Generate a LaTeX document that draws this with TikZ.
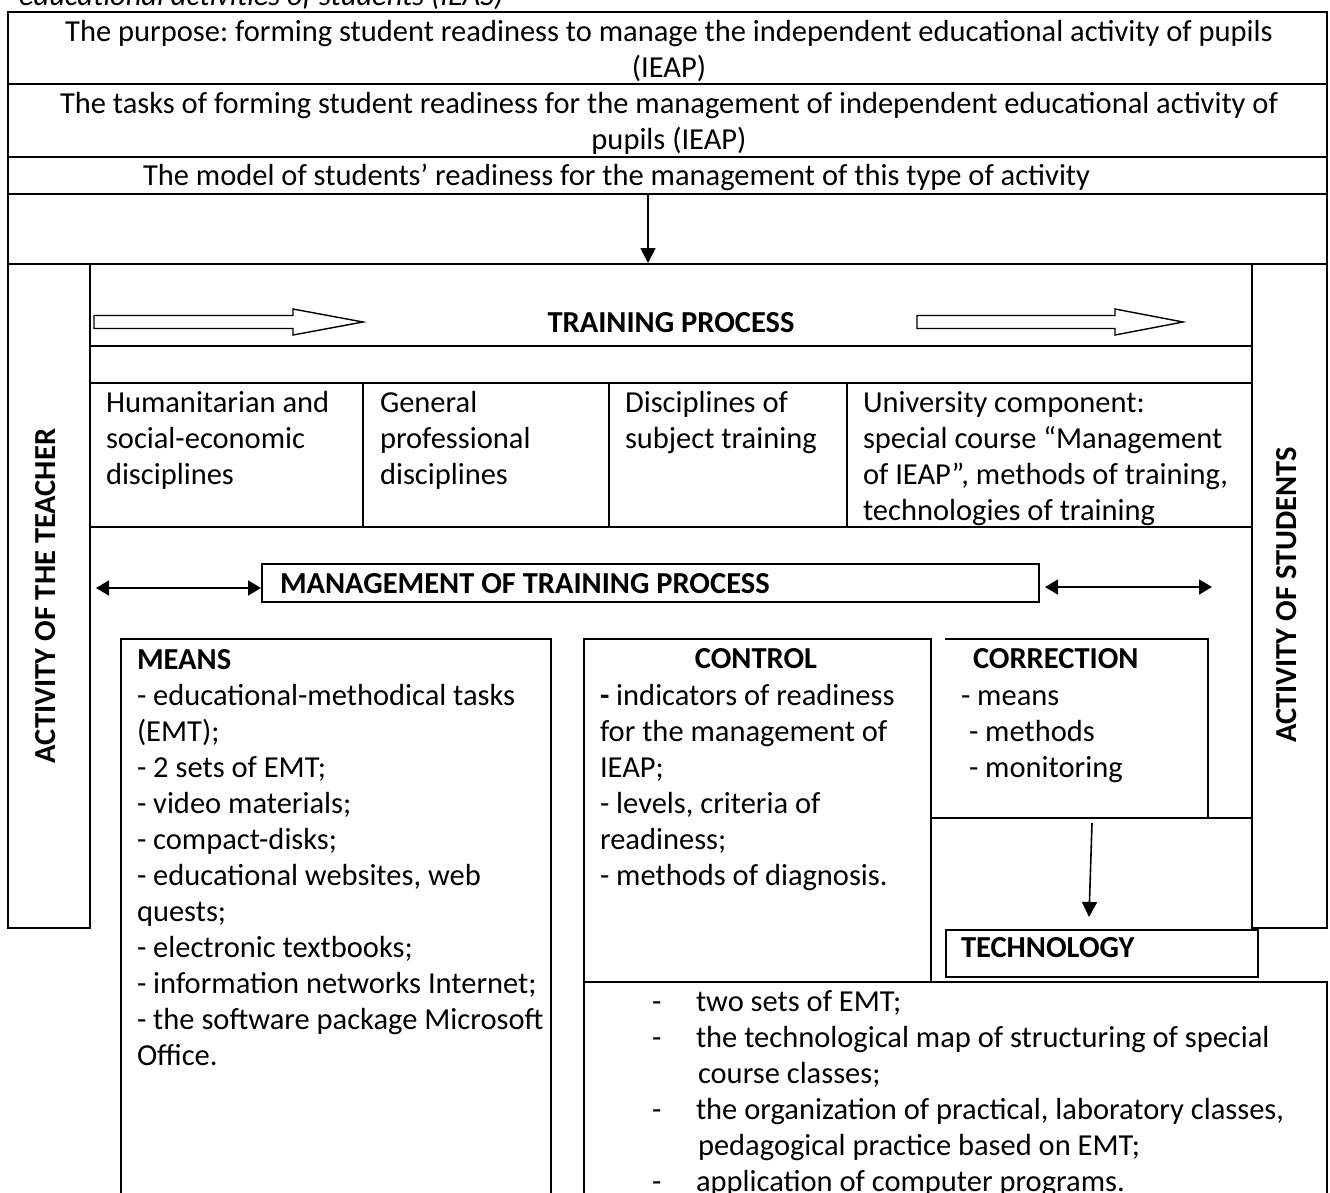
\documentclass[tikz,border=0pt]{standalone}
\usepackage{fontspec}
\setmainfont{Carlito}
\usetikzlibrary{arrows.meta}
\frenchspacing
\begin{document}
\frenchspacing
\begin{tikzpicture}[x=1pt,y=-1pt,line width=2pt,
  txt/.style={font=\fontsize{30.5}{36}\selectfont,inner sep=0pt,align=left,anchor=north west},
  ctxt/.style={font=\fontsize{30.5}{36}\selectfont,inner sep=0pt,align=center,anchor=north},
  ltxt/.style={font=\fontsize{30.5}{36}\selectfont,inner sep=0pt,anchor=base west},
  btxt/.style={font=\fontsize{30.5}{36}\selectfont\bfseries,inner sep=0pt,anchor=base west},
  vtxt/.style={font=\fontsize{30.5}{36}\selectfont\bfseries,inner sep=0pt,rotate=90},
  arr/.style={line width=1.6pt,-{Triangle[length=15pt,width=15pt]}},
  darr/.style={line width=1.6pt,{Triangle[length=13pt,width=15pt]}-{Triangle[length=13pt,width=15pt]}},
  hollow/.style={line width=1.4pt,fill=white}]
\useasboundingbox (0,0) rectangle (1330,1192);
\clip (0,0) rectangle (1330,1192);
% caption fragment at the top
\node (cap) [ltxt,font=\fontsize{30.5}{36}\selectfont\itshape] at (18,5) {educational activities of students (IEAS)};
% top frame
\draw (8,12) rectangle (1327,264);
\draw (8,84) -- (1327,84);
\draw (8,157) -- (1327,157);
\draw (8,194) -- (1327,194);
\node (purpose) [ctxt] at (669,14.8) {\strut The purpose: forming student readiness to manage the independent educational activity of pupils\\(IEAP)};
\node (tasks) [ctxt] at (669,86.8) {\strut The tasks of forming student readiness for the management of independent educational activity of\\pupils (IEAP)};
\node (model) [ltxt] at (142,185) {The model of students’ readiness for the management of this type of activity};
\coordinate (a1s) at (648,195);
\coordinate (a1e) at (648,263);
\draw[arr] (a1s) -- (a1e);
% side columns
\draw (8,264) rectangle (90,928);
\draw (1252,264) rectangle (1327,928);
\node (teacher) [vtxt] at (46,596) {ACTIVITY OF THE TEACHER};
\node (students) [vtxt] at (1287,595) {ACTIVITY OF STUDENTS};
% training process rows
\draw (90,346) -- (1252,346);
\draw (90,383) -- (1252,383);
\draw (90,527) -- (1252,527);
\draw (363,383) -- (363,527);
\draw (609,383) -- (609,527);
\draw (847,383) -- (847,527);
\node (train) [btxt,anchor=base] at (671,332) {TRAINING PROCESS};
\draw[hollow] (94,315.5) -- (293,315.5) -- (293,309) -- (363,322) -- (293,335) -- (293,328.5) -- (94,328.5) -- cycle;
\draw[hollow] (917,315.5) -- (1115,315.5) -- (1115,309) -- (1183,322) -- (1115,335) -- (1115,328.5) -- (917,328.5) -- cycle;
\node (hum) [txt] at (105,385.8) {\strut Humanitarian and\\social-economic\\disciplines};
\node (gen) [txt] at (379,385.8) {\strut General\\professional\\disciplines};
\node (subj) [txt] at (624,385.8) {\strut Disciplines of\\subject training};
\node (univ) [txt] at (862,385.8) {\strut University component:\\special course “Management\\of IEAP”, methods of training,\\technologies of training};
% management
\draw (262,564) rectangle (1039,602);
\node (mgmt) [btxt] at (279,593) {MANAGEMENT OF TRAINING PROCESS};
\coordinate (l1) at (96,588);
\coordinate (l2) at (261,588);
\coordinate (r1) at (1045,587);
\coordinate (r2) at (1212,587);
\draw[darr] (l1) -- (l2);
\draw[darr] (r1) -- (r2);
% means
\draw (121,1200) -- (121,639) -- (551,639) -- (551,1200);
\node (means) [txt] at (136,642.8) {\strut\textbf{MEANS}\\- educational-methodical tasks\\(EMT);\\- 2 sets of EMT;\\- video materials;\\- compact-disks;\\- educational websites, web\\quests;\\- electronic textbooks;\\- information networks Internet;\\- the software package Microsoft\\Office.};
% control
\draw (584,1200) -- (584,639) -- (931,639) -- (931,982);
\node (ctrlt) [btxt,anchor=base] at (756,668) {CONTROL};
\node (ctrl) [txt] at (599,678.8) {\strut\textbf{-} indicators of readiness\\for the management of\\IEAP;\\- levels, criteria of\\readiness;\\- methods of diagnosis.};
% correction
\draw (945,639) -- (1208,639) -- (1208,818);
\draw (931,818) -- (1252,818);
\node (corrt) [btxt] at (972,668) {CORRECTION};
\node (corr) [txt] at (960,678.8) {\strut - means\\\hspace*{8pt}- methods\\\hspace*{8pt}- monitoring};
\coordinate (c1) at (1092,823);
\coordinate (c2) at (1089,917);
\draw[arr] (c1) -- (c2);
% technology
\draw (946,930) rectangle (1258,977);
\node (tech) [btxt] at (960,957) {TECHNOLOGY};
\draw (584,982) -- (1327,982) -- (1327,1200);
\node (tdash) [txt] at (651,984.8) {\strut-\\\strut-\\\strut\\\strut-\\\strut\\\strut-};
\node (tlist) [txt] at (695,984.8) {\strut two sets of EMT;\\the technological map of structuring of special\\\hspace*{2pt}course classes;\\the organization of practical, laboratory classes,\\\hspace*{2pt}pedagogical practice based on EMT;\\application of computer programs.};
\end{tikzpicture}
\end{document}
